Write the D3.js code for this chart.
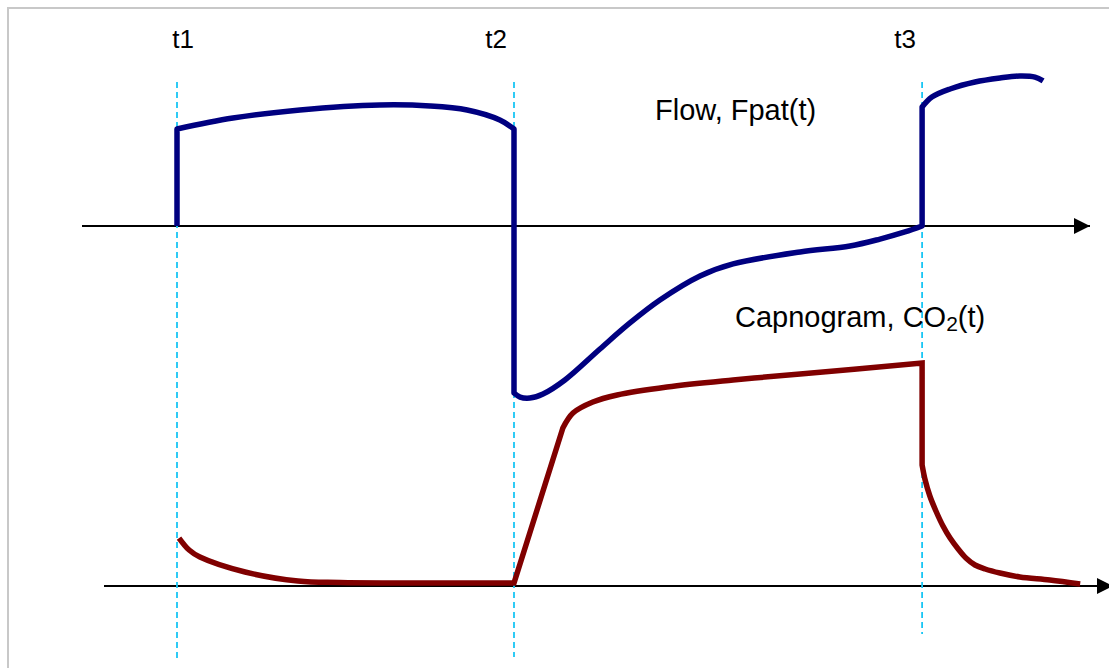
<!DOCTYPE html>
<html>
<head>
<meta charset="utf-8">
<script src="https://cdn.jsdelivr.net/npm/d3@7/dist/d3.min.js"></script>
<style>
  html, body { margin: 0; padding: 0; background: #fff; }
  svg { display: block; }
  text { font-family: Arial, "Liberation Sans", sans-serif; fill: #000; }
</style>
</head>
<body>
<svg id="chart" width="1109" height="668"></svg>
<script>
// ---------- DATA ----------
// event times (s)
const eventTimes = [1, 2, 3.211];
const eventLabels = ["t1", "t2", "t3"];

// Flow, Fpat(t)  [time s, flow L/s] — smooth pieces, joined by straight (step) segments
const flowStart = [1, 0];
const flowInspiration = [
  [1.000, 0.795], [1.166, 0.885], [1.365, 0.951], [1.602, 0.992],
  [1.751, 0.984], [1.861, 0.951], [1.958, 0.869], [2.000, 0.795]
];
const flowExpiration = [
  [2.000, -1.369], [2.018, -1.402], [2.047, -1.410], [2.086, -1.377],
  [2.151, -1.262], [2.255, -1.008], [2.344, -0.795], [2.433, -0.607],
  [2.552, -0.410], [2.650, -0.311], [2.849, -0.213], [2.997, -0.164],
  [3.086, -0.107], [3.160, -0.049], [3.211, 0.000]
];
const flowNextInspiration = [
  [3.211, 0.975], [3.240, 1.057], [3.294, 1.123], [3.368, 1.180],
  [3.442, 1.213], [3.501, 1.230], [3.546, 1.221], [3.570, 1.189]
];

// Capnogram, CO2(t)  [time s, CO2 kPa]
const co2Washout = [
  [1.006, 1.076], [1.036, 0.807], [1.068, 0.650], [1.202, 0.314],
  [1.359, 0.112], [1.484, 0.078], [2.000, 0.067]
];
const co2Plateau = [
  [2.145, 3.543], [2.175, 3.879], [2.234, 4.126], [2.306, 4.283],
  [2.454, 4.462], [2.650, 4.619], [2.849, 4.753], [3.211, 5.000]
];
const co2NextWashout = [
  [3.211, 2.713], [3.220, 2.377], [3.234, 2.018], [3.252, 1.682],
  [3.273, 1.345], [3.294, 1.076], [3.318, 0.830], [3.341, 0.628],
  [3.368, 0.471], [3.398, 0.381], [3.442, 0.291], [3.501, 0.202],
  [3.590, 0.135], [3.680, 0.045]
];

const flowLabel = "Flow, Fpat(t)";
const co2LabelMain = "Capnogram, CO";
const co2LabelSub = "2";
const co2LabelEnd = "(t)";

// ---------- SCALES ----------
const svg = d3.select("#chart");
const x = d3.scaleLinear().domain([1, 2]).range([177, 514]);
const yFlow = d3.scaleLinear().domain([0, 1]).range([226, 104]);
const yCo2 = d3.scaleLinear().domain([0, 5]).range([586, 363]);

// frame
svg.append("rect")
  .attr("x", 8).attr("y", 8).attr("width", 1130).attr("height", 700)
  .attr("fill", "none").attr("stroke", "#c8c8c8").attr("stroke-width", 2);

// arrowhead marker
const defs = svg.append("defs");
defs.append("marker")
  .attr("id", "arrow").attr("viewBox", "0 0 16 16")
  .attr("refX", 16).attr("refY", 8)
  .attr("markerWidth", 16).attr("markerHeight", 16)
  .attr("markerUnits", "userSpaceOnUse")
  .attr("orient", "auto")
  .append("path").attr("d", "M0,0 L16,8 L0,16 Z").attr("fill", "#000");

// axes (time axes, no ticks)
svg.append("line")
  .attr("x1", 82).attr("x2", 1090)
  .attr("y1", yFlow(0)).attr("y2", yFlow(0))
  .attr("stroke", "#000").attr("stroke-width", 2)
  .attr("marker-end", "url(#arrow)");
svg.append("line")
  .attr("x1", 104).attr("x2", 1113)
  .attr("y1", yCo2(0)).attr("y2", yCo2(0))
  .attr("stroke", "#000").attr("stroke-width", 2)
  .attr("marker-end", "url(#arrow)");

// event markers
const markerBottoms = [658, 657, 634];
const labelOffsets = [6, -18, -17];
svg.selectAll("line.event").data(eventTimes).join("line")
  .attr("class", "event")
  .attr("x1", d => x(d)).attr("x2", d => x(d))
  .attr("y1", 82).attr("y2", (d, i) => markerBottoms[i])
  .attr("stroke", "#18c6f4").attr("stroke-width", 1.8)
  .attr("stroke-dasharray", "6,4");
svg.selectAll("text.event").data(eventTimes).join("text")
  .attr("class", "event")
  .attr("x", (d, i) => x(d) + labelOffsets[i]).attr("y", 48)
  .attr("text-anchor", "middle")
  .attr("font-size", 26)
  .text((d, i) => eventLabels[i]);

// helper to join smooth pieces with straight segments
function joinedPath(start, pieces, yScale) {
  const smooth = d3.line().x(d => x(d[0])).y(d => yScale(d[1]))
    .curve(d3.curveCatmullRom.alpha(0.5));
  let p = start ? `M${x(start[0])},${yScale(start[1])}` : "";
  pieces.forEach((seg) => {
    let s = smooth(seg);
    if (p !== "") s = s.replace(/^M/, "L");
    p += s;
  });
  return p;
}

svg.append("path")
  .attr("d", joinedPath(flowStart, [flowInspiration, flowExpiration, flowNextInspiration], yFlow))
  .attr("fill", "none").attr("stroke", "#000080").attr("stroke-width", 5.5)
  .attr("stroke-linejoin", "round");

svg.append("path")
  .attr("d", joinedPath(null, [co2Washout, co2Plateau, co2NextWashout], yCo2))
  .attr("fill", "none").attr("stroke", "#800000").attr("stroke-width", 5.5)
  .attr("stroke-linejoin", "miter");

// labels
svg.append("text").attr("x", 655).attr("y", 120)
  .attr("font-size", 29).text(flowLabel);
const cl = svg.append("text").attr("x", 735).attr("y", 327).attr("font-size", 29);
cl.append("tspan").text(co2LabelMain);
cl.append("tspan").attr("font-size", 21).attr("dy", 4).text(co2LabelSub);
cl.append("tspan").attr("dy", -4).text(co2LabelEnd);
</script>
</body>
</html>
